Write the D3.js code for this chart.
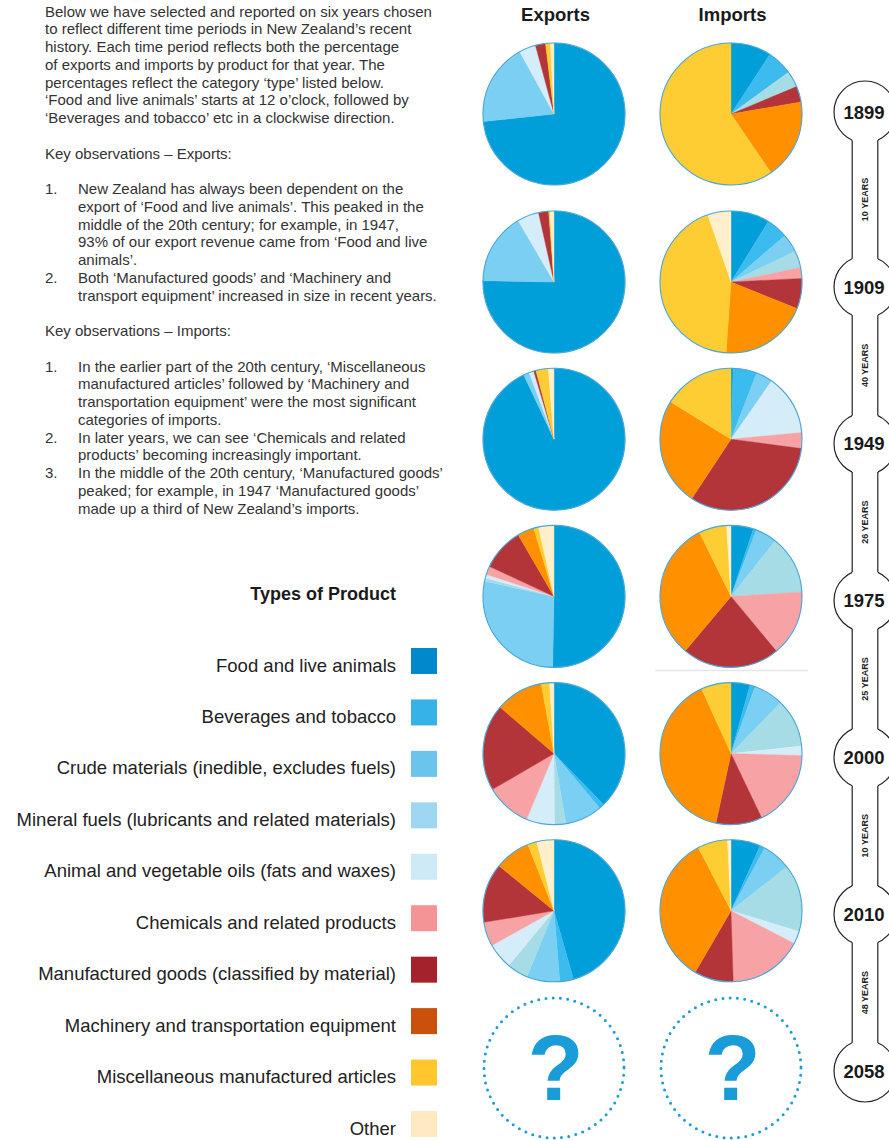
<!DOCTYPE html>
<html><head><meta charset="utf-8">
<script src="https://cdn.jsdelivr.net/npm/d3@7"></script>
<style>
body{margin:0;background:#fff}
svg{display:block;font-family:"Liberation Sans",Arial,Helvetica,sans-serif}
</style>
</head><body>
<svg id="chart" width="889" height="1140"></svg>
<script>
// ---------------- DATA ----------------
const categories = [
  "Food and live animals",
  "Beverages and tobacco",
  "Crude materials (inedible, excludes fuels)",
  "Mineral fuels (lubricants and related materials)",
  "Animal and vegetable oils (fats and waxes)",
  "Chemicals and related products",
  "Manufactured goods (classified by material)",
  "Machinery and transportation equipment",
  "Miscellaneous manufactured articles",
  "Other"
];
const years = [1899, 1909, 1949, 1975, 2000, 2010, 2058];
// percentage shares per year, in category order (clockwise from 12 o'clock)
const exports1899 = [73.3, 0, 18.7, 0, 3.8, 0, 2.3, 0, 1.1, 0.8];
const exports1909 = [75.3, 0, 16.3, 0, 4.9, 0, 2.3, 0, 0.3, 0.9];
const exports1949 = [93.0, 0, 1.3, 0, 1.1, 0, 0.5, 0, 2.8, 1.3];
const exports1975 = [50.3, 0, 28.1, 0.8, 0.8, 1.9, 9.7, 3.8, 1.1, 3.5];
const exports2000 = [37.7, 1.2, 8.4, 2.6, 6.4, 10.3, 19.7, 10.8, 1.9, 1.0];
const exports2010 = [45.6, 3.1, 7.5, 4.8, 5.9, 5.5, 13.5, 8.1, 2.1, 3.9];

const imports1899 = [9.2, 5.8, 0, 3.7, 0, 0, 3.6, 18.2, 59.5, 0];
const imports1909 = [8.8, 4.9, 4.2, 3.8, 0, 2.5, 6.9, 20.0, 43.6, 5.3];
const imports1949 = [0.5, 5.4, 3.8, 0, 13.8, 3.6, 32.2, 24.5, 16.2, 0];
const imports1975 = [5.1, 0.7, 4.9, 13.3, 0, 15.0, 22.1, 31.6, 6.3, 1.0];
const imports2000 = [4.3, 1.2, 6.8, 11.0, 2.1, 17.5, 10.5, 39.8, 6.8, 0];
const imports2010 = [6.7, 1.1, 6.6, 15.3, 2.9, 16.9, 8.9, 34.0, 6.8, 0.8];

const exportSeries = [exports1899, exports1909, exports1949, exports1975, exports2000, exports2010];
const importSeries = [imports1899, imports1909, imports1949, imports1975, imports2000, imports2010];

const pieColors = ["#009fda","#3bbbee","#7acff2","#a6dce5","#d5edf8","#f7a3a6","#b3353a","#ff9000","#fecd34","#ffefcb"];
const legendColors = ["#0088cc","#36b2e8","#6ac4ec","#9fd7f3","#cfeaf7","#f49497","#a3222b","#c9510c","#ffc72c","#ffe9c2"];

const introLines = [
  {row:0, t:"Below we have selected and reported on six years chosen"},
  {row:1, t:"to reflect different time periods in New Zealand\u2019s recent"},
  {row:2, t:"history. Each time period reflects both the percentage"},
  {row:3, t:"of exports and imports by product for that year. The"},
  {row:4, t:"percentages reflect the category \u2018type\u2019 listed below."},
  {row:5, t:"\u2018Food and live animals\u2019 starts at 12 o\u2019clock, followed by"},
  {row:6, t:"\u2018Beverages and tobacco\u2019 etc in a clockwise direction."},
  {row:8, t:"Key observations \u2013 Exports:"},
  {row:10, n:"1.", t:"New Zealand has always been dependent on the"},
  {row:11, t:"export of \u2018Food and live animals\u2019. This peaked in the", ind:true},
  {row:12, t:"middle of the 20th century; for example, in 1947,", ind:true},
  {row:13, t:"93% of our export revenue came from \u2018Food and live", ind:true},
  {row:14, t:"animals\u2019.", ind:true},
  {row:15, n:"2.", t:"Both \u2018Manufactured goods\u2019 and \u2018Machinery and"},
  {row:16, t:"transport equipment\u2019 increased in size in recent years.", ind:true},
  {row:18, t:"Key observations \u2013 Imports:"},
  {row:20, n:"1.", t:"In the earlier part of the 20th century, \u2018Miscellaneous"},
  {row:21, t:"manufactured articles\u2019 followed by \u2018Machinery and", ind:true},
  {row:22, t:"transportation equipment\u2019 were the most significant", ind:true},
  {row:23, t:"categories of imports.", ind:true},
  {row:24, n:"2.", t:"In later years, we can see \u2018Chemicals and related"},
  {row:25, t:"products\u2019 becoming increasingly important.", ind:true},
  {row:26, n:"3.", t:"In the middle of the 20th century, \u2018Manufactured goods\u2019"},
  {row:27, t:"peaked; for example, in 1947 \u2018Manufactured goods\u2019", ind:true},
  {row:28, t:"made up a third of New Zealand\u2019s imports.", ind:true}
];

// ---------------- DRAW ----------------
const svg = d3.select("#chart");

// intro text
const lineY = d3.scaleLinear().domain([0, 28]).range([16.7, 513.5]);
const intro = svg.append("g").attr("font-size", 15).attr("fill", "#333");
introLines.forEach(l => {
  if (l.n) intro.append("text").attr("x", 45).attr("y", lineY(l.row)).text(l.n);
  intro.append("text")
    .attr("x", (l.n || l.ind) ? 78 : 45)
    .attr("y", lineY(l.row)).text(l.t);
});

// column headers
const colX = d3.scalePoint().domain(["Exports","Imports"]).range([554, 731]);
svg.selectAll("text.hdr").data(colX.domain()).join("text")
  .attr("class","hdr")
  .attr("x", d => colX(d) + 1.5).attr("y", 20.5)
  .attr("text-anchor","middle").attr("font-weight","bold")
  .attr("font-size", 18.5).attr("fill","#1a1a1a").text(d => d);

// rows
const rowY = d3.scaleLinear().domain([0, 1, 6]).range([114, 282, 1068]);
const R = 71;
const pie = d3.pie().sort(null).value(d => d);
const arc = d3.arc().innerRadius(0).outerRadius(R);

function drawPie(values, cx, cy) {
  const g = svg.append("g").attr("transform", `translate(${cx},${cy})`);
  g.selectAll("path").data(pie(values).filter(d => d.data > 0)).join("path")
    .attr("d", arc)
    .attr("fill", d => pieColors[d.index])
    .attr("stroke", d => pieColors[d.index])
    .attr("stroke-width", 0.4);
  g.append("circle").attr("r", R).attr("fill","none")
    .attr("stroke","#4aa6d6").attr("stroke-width", 1.1);
}
exportSeries.forEach((v, i) => drawPie(v, colX("Exports"), rowY(i)));
importSeries.forEach((v, i) => drawPie(v, colX("Imports"), rowY(i)));

// faint separator under 1975 imports
svg.append("line")
  .attr("x1", colX("Imports") - 76).attr("x2", colX("Imports") + 77)
  .attr("y1", rowY(3) + 74).attr("y2", rowY(3) + 74)
  .attr("stroke", "#e6e6e6").attr("stroke-width", 1.5);

// future year (unknown) circles
["Exports","Imports"].forEach(c => {
  const cx = colX(c), cy = rowY(6);
  svg.append("circle").attr("cx", cx).attr("cy", cy).attr("r", 70)
    .attr("fill","none").attr("stroke","#1a9cd8")
    .attr("stroke-width", 3).attr("stroke-linecap","round")
    .attr("stroke-dasharray","0 7.3");
  svg.append("text").attr("x", cx + 1.5).attr("y", cy + 32)
    .attr("text-anchor","middle").attr("font-weight","bold")
    .attr("font-size", 92).attr("fill","#1a9cd8").text("?");
});

// legend
svg.append("text").attr("x", 396).attr("y", 599.5)
  .attr("text-anchor","end").attr("font-weight","bold")
  .attr("font-size", 18).attr("fill","#1a1a1a").text("Types of Product");
const legY = d3.scaleLinear().domain([0, 9]).range([661, 1124]);
const leg = svg.append("g");
categories.forEach((c, i) => {
  leg.append("rect").attr("x", 411).attr("y", legY(i) - 13)
    .attr("width", 26).attr("height", 26).attr("fill", legendColors[i]);
  leg.append("text").attr("x", 396).attr("y", legY(i) + 10.5)
    .attr("text-anchor","end").attr("font-size", 18.5)
    .attr("fill","#222").text(c);
});

// timeline
const tlX = 865, tlR = 31, half = 12.8;
const tlY = d3.scaleLinear().domain([0, 1, 6]).range([112, 287, 1071]);
const tl = svg.append("g");
years.forEach((y, i) => {
  tl.append("circle").attr("cx", tlX).attr("cy", tlY(i)).attr("r", tlR)
    .attr("fill","#fff").attr("stroke","#222").attr("stroke-width", 1.2);
});
const dy = Math.sqrt(tlR * tlR - half * half);
years.slice(1).forEach((y, i) => {
  const y0 = tlY(i), y1 = tlY(i + 1);
  tl.append("rect").attr("x", tlX - half).attr("y", y0)
    .attr("width", half * 2).attr("height", y1 - y0).attr("fill","#fff");
  [-half, half].forEach(off => {
    tl.append("line").attr("x1", tlX + off).attr("x2", tlX + off)
      .attr("y1", y0 + dy).attr("y2", y1 - dy)
      .attr("stroke","#222").attr("stroke-width", 1.2);
  });
  const gap = y - years[i];
  const my = (y0 + y1) / 2;
  tl.append("text")
    .attr("transform", `translate(${tlX + 3.2},${my}) rotate(-90)`)
    .attr("text-anchor","middle").attr("font-weight","bold")
    .attr("font-size", 9).attr("fill","#222")
    .text(`${gap} YEARS`);
});
years.forEach((y, i) => {
  tl.append("text").attr("x", tlX - 1).attr("y", tlY(i) + 6.5)
    .attr("text-anchor","middle").attr("font-weight","bold")
    .attr("font-size", 18.5).attr("fill","#1a1a1a").text(y);
});
</script>
</body></html>
